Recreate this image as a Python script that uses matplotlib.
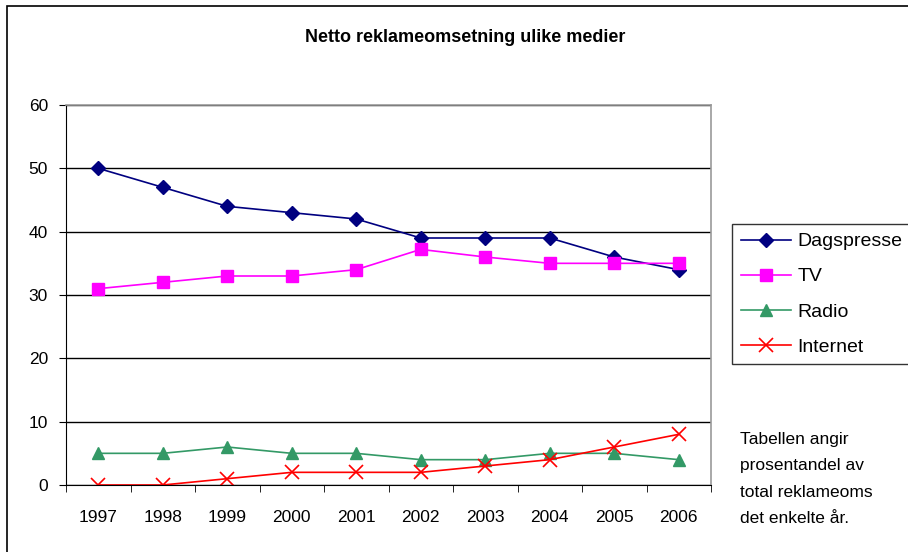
import numpy as np
import matplotlib.pyplot as plt
from matplotlib.patches import Rectangle

plt.rcParams['font.family'] = ['Liberation Sans', 'DejaVu Sans']

years = ['1997', '1998', '1999', '2000', '2001', '2002', '2003', '2004', '2005', '2006']
dagspresse = [50, 47, 44, 43, 42, 39, 39, 39, 36, 34]
tv = [31, 32, 33, 33, 34, 37.2, 36, 35, 35, 35]
radio = [5, 5, 6, 5, 5, 4, 4, 5, 5, 4]
internet = [0, 0, 1, 2, 2, 2, 3, 4, 6, 8]

fig = plt.figure(figsize=(9.08, 5.52), dpi=100)
ax = fig.add_axes([66/908, 67/552, 645/908, 380/552])

x = np.arange(len(years))
ax.plot(x, dagspresse, color='#000080', marker='D', markersize=7.5, lw=1.2, label='Dagspresse')
ax.plot(x, tv, color='#ff00ff', marker='s', markersize=8, lw=1.2, label='TV')
ax.plot(x, radio, color='#339966', marker='^', markersize=9, lw=1.2, label='Radio')
ax.plot(x, internet, color='#ff0000', marker='x', markersize=10, mew=1.2, lw=1.2, label='Internet')

ax.set_xlim(-0.5, len(years) - 0.5)
ax.set_ylim(0, 60)
ax.set_yticks(range(0, 61, 10))
ax.set_xticks(x)
ax.set_xticklabels(years)
ax.set_xticks(np.arange(-0.5, len(years), 1), minor=True)
ax.tick_params(axis='x', which='major', length=0, labelsize=12.5, pad=18)
ax.tick_params(axis='x', which='minor', length=5, direction='out', color='black')
ax.tick_params(axis='y', length=5, direction='out', labelsize=12.5, pad=8)
ax.yaxis.grid(True, color='black', lw=1)
ax.set_axisbelow(True)
for s in ['top', 'right']:
    ax.spines[s].set_color('#999999')
    ax.spines[s].set_linewidth(1.2)
ax.spines['left'].set_color('black')
ax.spines['bottom'].set_color('black')

fig.text(465/908, 1 - 37/552, 'Netto reklameomsetning ulike medier', ha='center', va='center',
         fontsize=13, fontweight='bold')

leg = fig.legend(loc='upper left', bbox_to_anchor=(732/908, 1 - 224/552), fontsize=14,
                 frameon=True, fancybox=False, edgecolor='black', handlelength=2.6,
                 labelspacing=0.9, borderpad=0.45, handletextpad=0.3, borderaxespad=0)
leg.get_frame().set_linewidth(1)

fig.text(740/908, 1 - 432/552, 'Tabellen angir\nprosentandel av\ntotal reklameoms\ndet enkelte år.',
         ha='left', va='top', fontsize=12.5, linespacing=1.95)

fig.patches.append(Rectangle((7/908, -0.1), 1.2, 1 - 6/552 + 0.1, transform=fig.transFigure,
                             fill=False, edgecolor='black', lw=1.2))

fig.savefig('out.png', dpi=100)
